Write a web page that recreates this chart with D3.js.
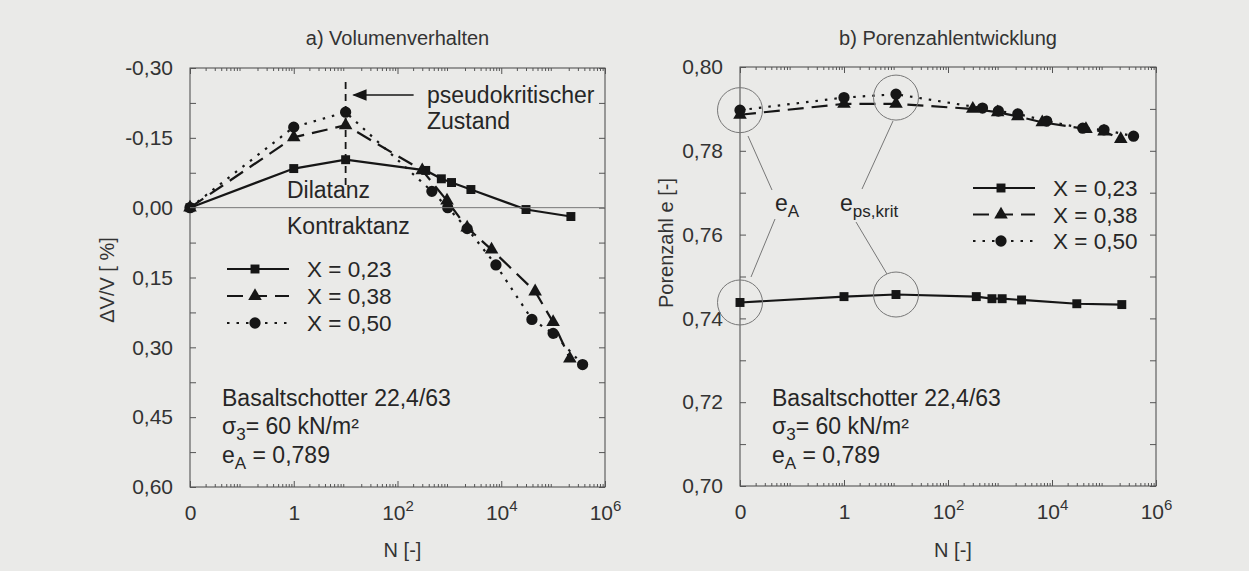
<!DOCTYPE html>
<html>
<head>
<meta charset="utf-8">
<script src="https://cdn.jsdelivr.net/npm/d3@7"></script>
<style>
  html, body { margin: 0; padding: 0; background: #eaeae8; }
  svg { display: block; font-family: "Liberation Sans", Arial, sans-serif; }
  .axis path { display: none; }
  .axis line { stroke: #555; }
  .axis text { fill: #333; font-size: 21px; font-family: "Liberation Sans", Arial, sans-serif; }
</style>
</head>
<body>
<svg id="chart" width="1249" height="571"></svg>
<script>
// load cycles N (0 is drawn at the left edge, 10^-2)
var N23 = [0, 1, 10, 350, 700, 1100, 2600, 30000, 220000];
var N38 = [0, 1, 10, 300, 900, 2200, 6500, 45000, 100000, 210000];
var N50 = [0, 1, 10, 460, 930, 2200, 7900, 39000, 100000, 370000];

// a) volume change dV/V [%] (negative = dilatancy)
var dv23 = [0, -0.084, -0.103, -0.080, -0.062, -0.054, -0.039, 0.004, 0.019];
var dv38 = [0, -0.151, -0.177, -0.080, -0.015, 0.043, 0.090, 0.180, 0.246, 0.324];
var dv50 = [0, -0.173, -0.205, -0.035, 0.000, 0.045, 0.123, 0.240, 0.270, 0.337];

// b) void ratio e
var e23 = [0.7438, 0.7452, 0.7457, 0.7452, 0.7447, 0.7447, 0.7444, 0.7435, 0.7433];
var e38 = [0.7886, 0.7912, 0.7912, 0.7900, 0.7892, 0.7882, 0.7868, 0.7852, 0.7846, 0.7828];
var e50 = [0.7897, 0.7927, 0.7935, 0.7902, 0.7895, 0.7888, 0.7871, 0.7854, 0.7850, 0.7835];

var seriesNames = ["X = 0,23", "X = 0,38", "X = 0,50"];
var xTicks = [0.01, 1, 100, 1e4, 1e6];
var xTickLabels = ["0", "1", "10|2", "10|4", "10|6"];
var dvTicks = [-0.30, -0.15, 0.00, 0.15, 0.30, 0.45, 0.60];
var eTicks = [0.70, 0.72, 0.74, 0.76, 0.78, 0.80];

var svg = d3.select("#chart");
var ink = "#161616";
var txt = "#262626";

// styles for the three series
var styles = [
    { dash: null, sym: d3.symbolSquare, size: 80 },
    { dash: "16,8", sym: d3.symbolTriangle, size: 80 },
    { dash: "2.5,7", sym: d3.symbolCircle, size: 100 }
];

function nPos(n) {
    return n === 0 ? 0.01 : n;
}

function fmt(v) {
    return d3.format(".2f")(v).replace(".", ",").replace("\u2212", "-");
}

// minor log ticks
var minorTicks = [];
for (var e = -2; e < 6; e++) {
    for (var k = 2; k < 10; k++) minorTicks.push(k * Math.pow(10, e));
}

function subText(x, y, size, parts) {
    // parts: [text, sub, text, ...]
    var t = svg.append("text").attr("x", x).attr("y", y).attr("font-size", size).attr("fill", txt);
    parts.forEach(function(p, i) {
        if (i % 2 === 1) {
            t.append("tspan").attr("dy", 6).attr("font-size", size * 0.74).text(p);
        } else {
            t.append("tspan").attr("dy", i ? -6 : 0).text(p);
        }
    });
    return t;
}

function drawPanel(opt) {
    var x = d3.scaleLog().domain([0.01, 1e6]).range([opt.left, opt.right]);
    var y = d3.scaleLinear().domain(opt.yDomain).range([opt.top, opt.bottom]);
    var g = svg.append("g");

    // frame
    g.append("rect")
        .attr("x", opt.left).attr("y", opt.top)
        .attr("width", opt.right - opt.left).attr("height", opt.bottom - opt.top)
        .attr("fill", "none").attr("stroke", "#444").attr("stroke-width", 1);

    // inward ticks on all four sides
    g.append("g").attr("class", "axis").attr("transform", "translate(0," + opt.top + ")")
        .call(d3.axisBottom(x).tickValues(xTicks).tickSize(6).tickFormat(""));
    g.append("g").attr("class", "axis").attr("transform", "translate(0," + opt.top + ")")
        .call(d3.axisBottom(x).tickValues(minorTicks).tickSize(3).tickFormat(""));
    g.append("g").attr("class", "axis").attr("transform", "translate(0," + opt.bottom + ")")
        .call(d3.axisTop(x).tickValues(xTicks).tickSize(6).tickFormat(""));
    g.append("g").attr("class", "axis").attr("transform", "translate(0," + opt.bottom + ")")
        .call(d3.axisTop(x).tickValues(minorTicks).tickSize(3).tickFormat(""));

    var yMinor = [];
    for (var i = 0; i < opt.yTicks.length - 1; i++) {
        yMinor.push((opt.yTicks[i] + opt.yTicks[i + 1]) / 2);
    }
    g.append("g").attr("class", "axis").attr("transform", "translate(" + opt.left + ",0)")
        .call(d3.axisRight(y).tickValues(opt.yTicks.concat(yMinor)).tickSize(6).tickFormat(""));
    g.append("g").attr("class", "axis").attr("transform", "translate(" + opt.right + ",0)")
        .call(d3.axisLeft(y).tickValues(opt.yTicks.concat(yMinor)).tickSize(6).tickFormat(""));

    // y labels
    g.append("g").attr("class", "axis").attr("transform", "translate(" + opt.left + ",0)")
        .call(d3.axisLeft(y).tickValues(opt.yTicks).tickSize(0).tickPadding(17).tickFormat(fmt));

    // x labels with superscripts
    var xl = g.append("g").attr("class", "axis").attr("transform", "translate(0," + opt.bottom + ")")
        .call(d3.axisBottom(x).tickValues(xTicks).tickSize(0).tickPadding(18).tickFormat(""));
    xl.selectAll(".tick text").each(function(d, i) {
        var parts = xTickLabels[i].split("|");
        var t = d3.select(this);
        t.append("tspan").text(parts[0]);
        if (parts[1]) {
            t.append("tspan").attr("dy", -9).attr("font-size", 15).text(parts[1]);
        }
    });

    // titles
    svg.append("text").attr("x", (opt.left + opt.right) / 2).attr("y", 45)
        .attr("text-anchor", "middle").attr("font-size", 20).attr("fill", "#333").text(opt.title);
    svg.append("text").attr("x", (opt.left + opt.right) / 2 + 5).attr("y", 557)
        .attr("text-anchor", "middle").attr("font-size", 20).attr("fill", "#333").text("N [-]");
    svg.append("text")
        .attr("transform", "translate(" + opt.yTitleX + "," + opt.yTitleY + ") rotate(-90)")
        .attr("text-anchor", "middle").attr("font-size", 20).attr("fill", "#333").text(opt.yTitle);

    // info text
    subText(opt.left + 32, 406, 23, ["Basaltschotter 22,4/63"]);
    subText(opt.left + 32, 434, 23, ["\u03c3", "3", "= 60 kN/m\u00b2"]);
    subText(opt.left + 32, 463, 23, ["e", "A", " = 0,789"]);

    // series
    var line = d3.line().x(function(d) { return x(nPos(d[0])); }).y(function(d) { return y(d[1]); });
    opt.series.forEach(function(s, i) {
        var pts = d3.zip(s.n, s.v);
        var st = styles[i];
        g.append("path").datum(pts).attr("d", line)
            .attr("fill", "none").attr("stroke", ink).attr("stroke-width", 2.2)
            .attr("stroke-dasharray", st.dash);
        g.selectAll(".m" + i).data(pts).enter().append("path")
            .attr("transform", function(d) { return "translate(" + x(nPos(d[0])) + "," + y(d[1]) + ")"; })
            .attr("d", d3.symbol().type(st.sym).size(st.size))
            .attr("fill", ink);
    });

    // legend
    seriesNames.forEach(function(name, i) {
        var ly = opt.legendY + i * opt.legendStep;
        var st = styles[i];
        svg.append("line").attr("x1", opt.legendX).attr("x2", opt.legendX + 62)
            .attr("y1", ly).attr("y2", ly).attr("stroke", ink).attr("stroke-width", 2.2)
            .attr("stroke-dasharray", st.dash);
        svg.append("path").attr("transform", "translate(" + (opt.legendX + 28) + "," + ly + ")")
            .attr("d", d3.symbol().type(st.sym).size(st.size)).attr("fill", ink);
        svg.append("text").attr("x", opt.legendX + 80).attr("y", ly + 8)
            .attr("font-size", 22.5).attr("fill", txt).text(name);
    });

    return { x: x, y: y, g: g };
}

// a) Volumenverhalten
var a = drawPanel({
    left: 190, right: 605, top: 68, bottom: 487,
    yDomain: [-0.30, 0.60], yTicks: dvTicks,
    title: "a) Volumenverhalten", yTitle: "\u0394V/V [ %]", yTitleX: 114, yTitleY: 280,
    series: [{ n: N23, v: dv23 }, { n: N38, v: dv38 }, { n: N50, v: dv50 }],
    legendX: 227, legendY: 269, legendStep: 27
});

// zero line
a.g.append("line").attr("x1", a.x(0.01)).attr("x2", a.x(1e6))
    .attr("y1", a.y(0)).attr("y2", a.y(0)).attr("stroke", "#777").attr("stroke-width", 1);

// pseudo critical state marker
a.g.append("line").attr("x1", a.x(10)).attr("x2", a.x(10))
    .attr("y1", a.y(-0.27)).attr("y2", a.y(-0.04))
    .attr("stroke", ink).attr("stroke-width", 1.8).attr("stroke-dasharray", "7,5");
svg.append("defs").append("marker").attr("id", "arr")
    .attr("viewBox", "0 0 10 10").attr("refX", 9).attr("refY", 5)
    .attr("markerWidth", 9).attr("markerHeight", 9).attr("orient", "auto")
    .append("path").attr("d", "M0,1 L10,5 L0,9 Z").attr("fill", ink);
a.g.append("line").attr("x1", a.x(10) + 68).attr("x2", a.x(10) + 8)
    .attr("y1", a.y(-0.242)).attr("y2", a.y(-0.242))
    .attr("stroke", ink).attr("stroke-width", 1.6).attr("marker-end", "url(#arr)");
subText(427, 103, 23, ["pseudokritischer"]);
subText(427, 129, 23, ["Zustand"]);
subText(287, 198, 23, ["Dilatanz"]);
subText(287, 234, 23, ["Kontraktanz"]);

// b) Porenzahlentwicklung
var b = drawPanel({
    left: 740, right: 1156, top: 67, bottom: 486,
    yDomain: [0.80, 0.70], yTicks: eTicks,
    title: "b) Porenzahlentwicklung", yTitle: "Porenzahl e [-]", yTitleX: 673, yTitleY: 243,
    series: [{ n: N23, v: e23 }, { n: N38, v: e38 }, { n: N50, v: e50 }],
    legendX: 973, legendY: 188, legendStep: 26.5
});

// circled points: start value e_A and pseudo critical e
var marks = [[0, e50[0]], [10, e50[2] - 0.0008], [0, e23[0]], [10, e23[2]]];
marks.forEach(function(m) {
    svg.append("circle").attr("cx", b.x(nPos(m[0]))).attr("cy", b.y(m[1])).attr("r", 22.5)
        .attr("fill", "none").attr("stroke", "#777").attr("stroke-width", 1);
});
var leader = [[748, 136, 772, 190], [775, 219, 751, 277], [893, 121, 862, 189], [856, 222, 887, 274]];
leader.forEach(function(l) {
    svg.append("line").attr("x1", l[0]).attr("y1", l[1]).attr("x2", l[2]).attr("y2", l[3])
        .attr("stroke", "#777").attr("stroke-width", 1);
});
subText(775, 211, 23, ["e", "A"]);
subText(840, 211, 23, ["e", "ps,krit"]);
</script>
</body>
</html>
